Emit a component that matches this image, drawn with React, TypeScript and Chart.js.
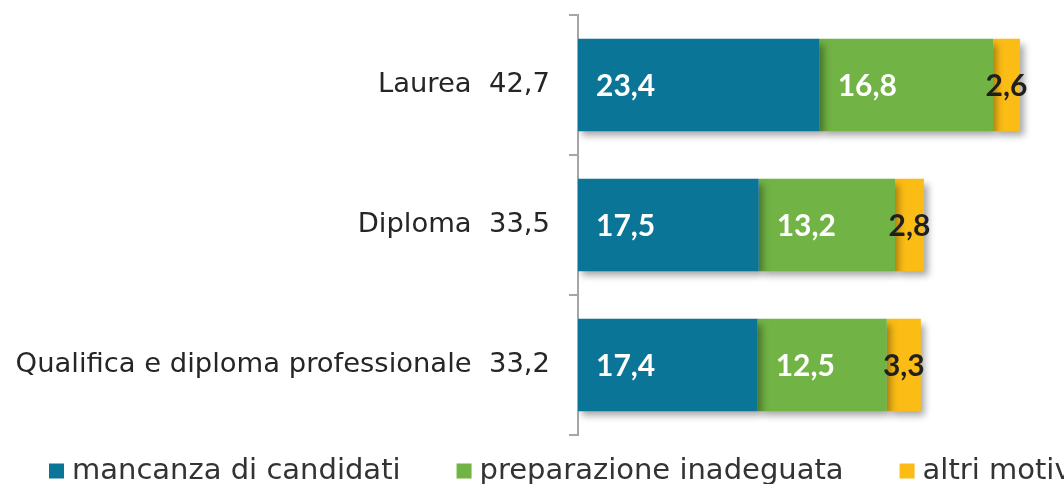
import { useEffect, useRef } from "react";
import { Chart, registerables } from "chart.js";

Chart.register(...registerables);

const categories = ["Laurea", "Diploma", "Qualifica e diploma professionale"];
const totals = [42.7, 33.5, 33.2];
const seriesNames = ["mancanza di candidati", "preparazione inadeguata", "altri motivi"];
const mancanza = [23.4, 17.5, 17.4];
const preparazione = [16.8, 13.2, 12.5];
const altri = [2.6, 2.8, 3.3];
const colors = ["#0a7597", "#71b345", "#fbbc15"];

const fmt = (v: number) => v.toFixed(1).replace(".", ",");

const shadowPlugin = {
  id: "barShadow",
  beforeDatasetsDraw(chart: any) {
    const ctx = chart.ctx;
    ctx.save();
    ctx.shadowColor = "rgba(0,0,0,0.35)";
    ctx.shadowBlur = 7;
    ctx.shadowOffsetX = 4;
    ctx.shadowOffsetY = 5;
  },
  afterDatasetsDraw(chart: any) {
    chart.ctx.restore();
  },
};

const labelPlugin = {
  id: "barLabels",
  afterDatasetsDraw(chart: any) {
    const ctx = chart.ctx;
    ctx.save();
    ctx.font = "bold 30px Lato";
    ctx.textBaseline = "middle";
    chart.data.datasets.forEach((ds: any, di: number) => {
      const meta = chart.getDatasetMeta(di);
      meta.data.forEach((el: any, i: number) => {
        const v = ds.data[i] as number;
        const { x, y, base } = el.getProps(["x", "y", "base"], true);
        if (di < 2) {
          ctx.fillStyle = "#ffffff";
          ctx.textAlign = "left";
          ctx.fillText(fmt(v), base + 18, y + 1);
        } else {
          ctx.fillStyle = "#1f1f1f";
          ctx.textAlign = "center";
          ctx.fillText(fmt(v), (x + base) / 2, y + 1);
        }
      });
    });
    ctx.restore();
  },
};

const legendPlugin = {
  id: "bottomLegend",
  afterDraw(chart: any) {
    const ctx = chart.ctx;
    ctx.save();
    ctx.font = "29px 'DejaVu Sans'";
    ctx.textBaseline = "middle";
    ctx.textAlign = "left";
    let x = 49;
    const yc = 471;
    chart.data.datasets.forEach((ds: any) => {
      ctx.fillStyle = ds.backgroundColor;
      ctx.fillRect(x, yc - 7.5, 15, 15);
      x += 15 + 8;
      ctx.fillStyle = "#333333";
      ctx.fillText(ds.label, x, yc);
      x += ctx.measureText(ds.label).width + 56;
    });
    ctx.restore();
  },
};

export default function App() {
  const ref = useRef<HTMLCanvasElement>(null);

  useEffect(() => {
    document.body.style.margin = "0";
    const canvas = ref.current;
    if (!canvas) return;
    const series = [mancanza, preparazione, altri];
    const chart = new Chart(canvas, {
      type: "bar",
      data: {
        labels: categories,
        datasets: series.map((d, i) => ({
          label: seriesNames[i],
          data: d,
          backgroundColor: colors[i],
          borderWidth: 0,
          barPercentage: 1,
          categoryPercentage: 0.66,
        })),
      },
      options: {
        indexAxis: "y",
        responsive: false,
        animation: false,
        layout: { padding: { top: 15, bottom: 49, right: 11, left: 0 } },
        plugins: {
          legend: { display: false },
          tooltip: { enabled: false },
        },
        scales: {
          x: { stacked: true, min: 0, max: 46, display: false },
          y: {
            stacked: true,
            afterFit: (s: any) => {
              s.width = 578;
              s.paddingTop = 0;
              s.paddingBottom = 0;
            },
            border: { color: "#a6a6a6", width: 2 },
            grid: {
              drawOnChartArea: false,
              tickLength: 9,
              color: "#a6a6a6",
              lineWidth: 2,
            },
            ticks: {
              padding: 19,
              color: "#262626",
              font: { family: "'DejaVu Sans'", size: 27.4 },
              callback: (_v: any, i: number) => `${categories[i]}  ${fmt(totals[i])}`,
            },
          },
        },
      } as any,
      plugins: [shadowPlugin, labelPlugin, legendPlugin],
    });
    return () => chart.destroy();
  }, []);

  return <canvas ref={ref} width={1064} height={484} style={{ display: "block" }} />;
}
